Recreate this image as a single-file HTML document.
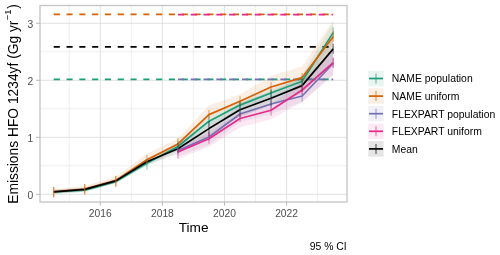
<!DOCTYPE html>
<html><head><meta charset="utf-8"><style>
html,body{margin:0;padding:0;background:#fff;}
svg{display:block;will-change:transform;font-family:"Liberation Sans",sans-serif;}
</style></head><body>
<svg width="500" height="255" viewBox="0 0 500 255">
<rect width="500" height="255" fill="#fff"/>
<line x1="69.25" y1="5.5" x2="69.25" y2="202.0" stroke="#DEDEDE" stroke-width="0.5"/>
<line x1="131.35" y1="5.5" x2="131.35" y2="202.0" stroke="#DEDEDE" stroke-width="0.5"/>
<line x1="193.45" y1="5.5" x2="193.45" y2="202.0" stroke="#DEDEDE" stroke-width="0.5"/>
<line x1="255.55" y1="5.5" x2="255.55" y2="202.0" stroke="#DEDEDE" stroke-width="0.5"/>
<line x1="317.65" y1="5.5" x2="317.65" y2="202.0" stroke="#DEDEDE" stroke-width="0.5"/>
<line x1="40.0" y1="165.80" x2="347.0" y2="165.80" stroke="#DEDEDE" stroke-width="0.5"/>
<line x1="40.0" y1="108.80" x2="347.0" y2="108.80" stroke="#DEDEDE" stroke-width="0.5"/>
<line x1="40.0" y1="51.80" x2="347.0" y2="51.80" stroke="#DEDEDE" stroke-width="0.5"/>
<line x1="100.30" y1="5.5" x2="100.30" y2="202.0" stroke="#DEDEDE" stroke-width="0.9"/>
<line x1="162.40" y1="5.5" x2="162.40" y2="202.0" stroke="#DEDEDE" stroke-width="0.9"/>
<line x1="224.50" y1="5.5" x2="224.50" y2="202.0" stroke="#DEDEDE" stroke-width="0.9"/>
<line x1="286.60" y1="5.5" x2="286.60" y2="202.0" stroke="#DEDEDE" stroke-width="0.9"/>
<line x1="40.0" y1="194.30" x2="347.0" y2="194.30" stroke="#DEDEDE" stroke-width="0.9"/>
<line x1="40.0" y1="137.30" x2="347.0" y2="137.30" stroke="#DEDEDE" stroke-width="0.9"/>
<line x1="40.0" y1="80.30" x2="347.0" y2="80.30" stroke="#DEDEDE" stroke-width="0.9"/>
<line x1="40.0" y1="23.30" x2="347.0" y2="23.30" stroke="#DEDEDE" stroke-width="0.9"/>
<polygon points="53.72,190.00 84.77,188.20 115.83,179.60 146.88,160.20 177.93,142.50 208.97,116.20 240.02,100.10 271.07,88.00 302.12,75.20 333.18,22.60 333.18,42.60 302.12,87.20 271.07,98.00 240.02,110.10 208.97,126.20 177.93,150.50 146.88,166.20 115.83,183.60 84.77,192.20 53.72,194.00" fill="#1B9E77" fill-opacity="0.1"/>
<polygon points="53.72,189.20 84.77,186.10 115.83,176.40 146.88,153.80 177.93,138.60 208.97,105.60 240.02,94.20 271.07,76.00 302.12,66.60 333.18,20.50 333.18,48.80 302.12,83.60 271.07,92.00 240.02,106.20 208.97,119.60 177.93,147.90 146.88,162.80 115.83,182.40 84.77,191.10 53.72,193.70" fill="#D95F02" fill-opacity="0.1"/>
<polygon points="177.93,145.50 208.97,130.00 240.02,106.00 271.07,96.00 302.12,82.00 333.18,49.50 333.18,75.50 302.12,102.00 271.07,114.00 240.02,122.00 208.97,145.00 177.93,156.50" fill="#7570B3" fill-opacity="0.1"/>
<polygon points="177.93,148.00 208.97,132.70 240.02,112.50 271.07,104.20 302.12,82.00 333.18,50.60 333.18,74.60 302.12,102.00 271.07,119.20 240.02,127.50 208.97,146.70 177.93,159.00" fill="#E7298A" fill-opacity="0.1"/>
<polygon points="53.72,189.80 84.77,187.40 115.83,178.90 146.88,158.70 177.93,143.70 208.97,121.60 240.02,102.70 271.07,91.30 302.12,77.60 333.18,36.90 333.18,62.90 302.12,93.60 271.07,105.30 240.02,116.70 208.97,135.60 177.93,153.70 146.88,164.70 115.83,182.90 84.77,191.40 53.72,193.80" fill="#000000" fill-opacity="0.1"/>
<line x1="53.72" y1="79.4" x2="333.18" y2="79.4" stroke="#1B9E77" stroke-width="1.7" stroke-dasharray="6.1 6.7"/>
<line x1="53.72" y1="14.4" x2="333.18" y2="14.4" stroke="#D95F02" stroke-width="1.7" stroke-dasharray="6.1 6.7"/>
<line x1="177.93" y1="79.4" x2="333.18" y2="79.4" stroke="#7570B3" stroke-width="1.7" stroke-dasharray="6.1 6.7"/>
<line x1="177.93" y1="14.6" x2="333.18" y2="14.6" stroke="#E7298A" stroke-width="1.7" stroke-dasharray="6.1 6.7"/>
<line x1="53.72" y1="46.9" x2="333.18" y2="46.9" stroke="#000000" stroke-width="1.7" stroke-dasharray="6.1 6.7"/>
<polyline points="53.72,192.00 84.77,190.20 115.83,181.60 146.88,163.20 177.93,146.50 208.97,121.20 240.02,105.10 271.07,93.00 302.12,81.20 333.18,32.60" fill="none" stroke="#1B9E77" stroke-width="1.7" stroke-linejoin="round"/>
<polyline points="53.72,191.70 84.77,189.10 115.83,180.40 146.88,159.80 177.93,143.90 208.97,114.60 240.02,101.20 271.07,87.00 302.12,77.60 333.18,36.80" fill="none" stroke="#D95F02" stroke-width="1.7" stroke-linejoin="round"/>
<polyline points="177.93,150.50 208.97,137.00 240.02,114.00 271.07,104.00 302.12,96.00 333.18,63.50" fill="none" stroke="#7570B3" stroke-width="1.7" stroke-linejoin="round"/>
<polyline points="177.93,152.00 208.97,138.70 240.02,118.50 271.07,110.20 302.12,90.00 333.18,62.60" fill="none" stroke="#E7298A" stroke-width="1.7" stroke-linejoin="round"/>
<polyline points="53.72,191.80 84.77,189.40 115.83,180.90 146.88,161.70 177.93,148.70 208.97,128.60 240.02,109.70 271.07,98.30 302.12,85.60 333.18,48.90" fill="none" stroke="#000000" stroke-width="1.7" stroke-linejoin="round"/>
<line x1="177.93" y1="143.00" x2="177.93" y2="153.00" stroke="#000000" stroke-width="1.2" stroke-opacity="0.5"/>
<line x1="208.97" y1="121.00" x2="208.97" y2="136.00" stroke="#000000" stroke-width="1.2" stroke-opacity="0.5"/>
<line x1="240.02" y1="102.00" x2="240.02" y2="117.00" stroke="#000000" stroke-width="1.2" stroke-opacity="0.5"/>
<line x1="271.07" y1="90.00" x2="271.07" y2="106.00" stroke="#000000" stroke-width="1.2" stroke-opacity="0.5"/>
<line x1="302.12" y1="79.00" x2="302.12" y2="92.00" stroke="#000000" stroke-width="1.2" stroke-opacity="0.5"/>
<line x1="333.18" y1="43.80" x2="333.18" y2="53.80" stroke="#000000" stroke-width="1.2" stroke-opacity="0.5"/>
<line x1="146.88" y1="159.00" x2="146.88" y2="169.60" stroke="#1B9E77" stroke-width="1.2" stroke-opacity="0.5"/>
<line x1="177.93" y1="141.00" x2="177.93" y2="151.00" stroke="#1B9E77" stroke-width="1.2" stroke-opacity="0.5"/>
<line x1="208.97" y1="115.00" x2="208.97" y2="125.00" stroke="#1B9E77" stroke-width="1.2" stroke-opacity="0.5"/>
<line x1="240.02" y1="101.00" x2="240.02" y2="109.00" stroke="#1B9E77" stroke-width="1.2" stroke-opacity="0.5"/>
<line x1="271.07" y1="89.00" x2="271.07" y2="97.00" stroke="#1B9E77" stroke-width="1.2" stroke-opacity="0.5"/>
<line x1="302.12" y1="76.00" x2="302.12" y2="86.00" stroke="#1B9E77" stroke-width="1.2" stroke-opacity="0.5"/>
<line x1="333.18" y1="27.40" x2="333.18" y2="38.00" stroke="#1B9E77" stroke-width="1.2" stroke-opacity="0.5"/>
<line x1="53.72" y1="186.90" x2="53.72" y2="197.20" stroke="#D95F02" stroke-width="1.2" stroke-opacity="0.8"/>
<line x1="84.77" y1="183.90" x2="84.77" y2="194.50" stroke="#D95F02" stroke-width="1.2" stroke-opacity="0.8"/>
<line x1="115.83" y1="175.80" x2="115.83" y2="186.80" stroke="#D95F02" stroke-width="1.2" stroke-opacity="0.8"/>
<line x1="146.88" y1="155.00" x2="146.88" y2="164.50" stroke="#D95F02" stroke-width="1.2" stroke-opacity="0.5"/>
<line x1="177.93" y1="137.90" x2="177.93" y2="146.70" stroke="#D95F02" stroke-width="1.2" stroke-opacity="0.5"/>
<line x1="208.97" y1="110.00" x2="208.97" y2="119.50" stroke="#D95F02" stroke-width="1.2" stroke-opacity="0.5"/>
<line x1="240.02" y1="96.20" x2="240.02" y2="105.00" stroke="#D95F02" stroke-width="1.2" stroke-opacity="0.5"/>
<line x1="271.07" y1="82.10" x2="271.07" y2="91.50" stroke="#D95F02" stroke-width="1.2" stroke-opacity="0.5"/>
<line x1="302.12" y1="73.00" x2="302.12" y2="82.00" stroke="#D95F02" stroke-width="1.2" stroke-opacity="0.5"/>
<line x1="333.18" y1="31.00" x2="333.18" y2="41.80" stroke="#D95F02" stroke-width="1.2" stroke-opacity="0.5"/>
<line x1="177.93" y1="146.00" x2="177.93" y2="155.00" stroke="#7570B3" stroke-width="1.2" stroke-opacity="0.5"/>
<line x1="208.97" y1="132.00" x2="208.97" y2="141.00" stroke="#7570B3" stroke-width="1.2" stroke-opacity="0.5"/>
<line x1="240.02" y1="108.00" x2="240.02" y2="119.00" stroke="#7570B3" stroke-width="1.2" stroke-opacity="0.5"/>
<line x1="271.07" y1="98.00" x2="271.07" y2="109.00" stroke="#7570B3" stroke-width="1.2" stroke-opacity="0.5"/>
<line x1="302.12" y1="93.00" x2="302.12" y2="101.50" stroke="#7570B3" stroke-width="1.2" stroke-opacity="0.5"/>
<line x1="333.18" y1="58.00" x2="333.18" y2="68.00" stroke="#7570B3" stroke-width="1.2" stroke-opacity="0.5"/>
<line x1="177.93" y1="149.00" x2="177.93" y2="158.50" stroke="#E7298A" stroke-width="1.2" stroke-opacity="0.5"/>
<line x1="208.97" y1="133.00" x2="208.97" y2="143.70" stroke="#E7298A" stroke-width="1.2" stroke-opacity="0.5"/>
<line x1="240.02" y1="113.00" x2="240.02" y2="121.80" stroke="#E7298A" stroke-width="1.2" stroke-opacity="0.5"/>
<line x1="271.07" y1="105.50" x2="271.07" y2="115.70" stroke="#E7298A" stroke-width="1.2" stroke-opacity="0.5"/>
<line x1="302.12" y1="85.00" x2="302.12" y2="95.00" stroke="#E7298A" stroke-width="1.2" stroke-opacity="0.5"/>
<line x1="333.18" y1="57.50" x2="333.18" y2="67.60" stroke="#E7298A" stroke-width="1.2" stroke-opacity="0.5"/>
<rect x="40.0" y="5.5" width="307.0" height="196.5" fill="none" stroke="#C4C4C4" stroke-width="1.3"/>
<line x1="36.0" y1="194.30" x2="40.0" y2="194.30" stroke="#B3B3B3" stroke-width="0.9"/>
<line x1="36.0" y1="137.30" x2="40.0" y2="137.30" stroke="#B3B3B3" stroke-width="0.9"/>
<line x1="36.0" y1="80.30" x2="40.0" y2="80.30" stroke="#B3B3B3" stroke-width="0.9"/>
<line x1="36.0" y1="23.30" x2="40.0" y2="23.30" stroke="#B3B3B3" stroke-width="0.9"/>
<line x1="100.30" y1="202.0" x2="100.30" y2="205.6" stroke="#B3B3B3" stroke-width="0.9"/>
<line x1="162.40" y1="202.0" x2="162.40" y2="205.6" stroke="#B3B3B3" stroke-width="0.9"/>
<line x1="224.50" y1="202.0" x2="224.50" y2="205.6" stroke="#B3B3B3" stroke-width="0.9"/>
<line x1="286.60" y1="202.0" x2="286.60" y2="205.6" stroke="#B3B3B3" stroke-width="0.9"/>
<text x="33.3" y="198.50" text-anchor="end" font-size="10.3" fill="#4D4D4D">0</text>
<text x="33.3" y="141.50" text-anchor="end" font-size="10.3" fill="#4D4D4D">1</text>
<text x="33.3" y="84.50" text-anchor="end" font-size="10.3" fill="#4D4D4D">2</text>
<text x="33.3" y="27.50" text-anchor="end" font-size="10.3" fill="#4D4D4D">3</text>
<text x="100.30" y="216.6" text-anchor="middle" font-size="10.3" fill="#4D4D4D">2016</text>
<text x="162.40" y="216.6" text-anchor="middle" font-size="10.3" fill="#4D4D4D">2018</text>
<text x="224.50" y="216.6" text-anchor="middle" font-size="10.3" fill="#4D4D4D">2020</text>
<text x="286.60" y="216.6" text-anchor="middle" font-size="10.3" fill="#4D4D4D">2022</text>
<text x="193.6" y="231.9" text-anchor="middle" font-size="13.65" fill="#000">Time</text>
<text transform="translate(18.1,104.0) rotate(-90)" text-anchor="middle" font-size="13.8" fill="#000">Emissions HFO 1234yf (Gg yr<tspan dx="0.4" dy="-7.2" font-size="9.4">−1</tspan><tspan dx="0.6" dy="7.2">)</tspan></text>
<text x="346.7" y="249.9" text-anchor="end" font-size="10.4" fill="#000">95 % CI</text>
<rect x="368.3" y="70.70" width="15.3" height="15.5" fill="#1B9E77" fill-opacity="0.1"/>
<line x1="376" y1="73.50" x2="376" y2="83.50" stroke="#1B9E77" stroke-width="1.2" stroke-opacity="0.6"/>
<line x1="369" y1="78.50" x2="383" y2="78.50" stroke="#1B9E77" stroke-width="1.7"/>
<text x="391.8" y="82.40" font-size="10.4" fill="#000">NAME population</text>
<rect x="368.3" y="88.30" width="15.3" height="15.5" fill="#D95F02" fill-opacity="0.1"/>
<line x1="376" y1="91.10" x2="376" y2="101.10" stroke="#D95F02" stroke-width="1.2" stroke-opacity="0.6"/>
<line x1="369" y1="96.10" x2="383" y2="96.10" stroke="#D95F02" stroke-width="1.7"/>
<text x="391.8" y="100.00" font-size="10.4" fill="#000">NAME uniform</text>
<rect x="368.3" y="105.90" width="15.3" height="15.5" fill="#7570B3" fill-opacity="0.1"/>
<line x1="376" y1="108.70" x2="376" y2="118.70" stroke="#7570B3" stroke-width="1.2" stroke-opacity="0.6"/>
<line x1="369" y1="113.70" x2="383" y2="113.70" stroke="#7570B3" stroke-width="1.7"/>
<text x="391.8" y="117.60" font-size="10.4" fill="#000">FLEXPART population</text>
<rect x="368.3" y="123.50" width="15.3" height="15.5" fill="#E7298A" fill-opacity="0.1"/>
<line x1="376" y1="126.30" x2="376" y2="136.30" stroke="#E7298A" stroke-width="1.2" stroke-opacity="0.6"/>
<line x1="369" y1="131.30" x2="383" y2="131.30" stroke="#E7298A" stroke-width="1.7"/>
<text x="391.8" y="135.20" font-size="10.4" fill="#000">FLEXPART uniform</text>
<rect x="368.3" y="141.10" width="15.3" height="15.5" fill="#000000" fill-opacity="0.1"/>
<line x1="376" y1="143.90" x2="376" y2="153.90" stroke="#000000" stroke-width="1.2" stroke-opacity="0.6"/>
<line x1="369" y1="148.90" x2="383" y2="148.90" stroke="#000000" stroke-width="1.7"/>
<text x="391.8" y="152.80" font-size="10.4" fill="#000">Mean</text>
</svg>
</body></html>
